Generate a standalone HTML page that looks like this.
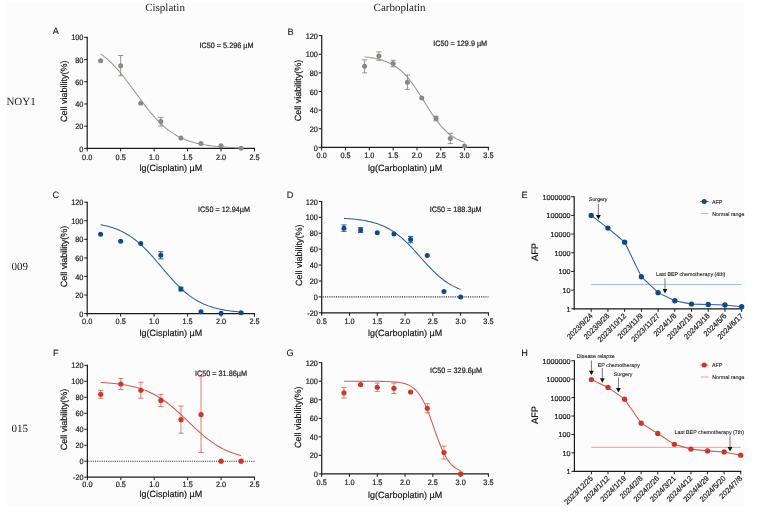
<!DOCTYPE html>
<html><head><meta charset="utf-8"><title>Figure</title>
<style>html,body{margin:0;padding:0;background:#fff;width:777px;height:512px;overflow:hidden}svg{display:block}</style>
</head><body>
<svg width="777" height="512" viewBox="0 0 777 512">
<style>text{text-rendering:geometricPrecision}.s{stroke:#1a1a1a;stroke-width:0.2px}.t{stroke:#1a1a1a;stroke-width:0.1px}</style>
<rect x="0" y="0" width="777" height="512" fill="#ffffff"/>
<rect x="6" y="3" width="739" height="502" fill="#fcfcfc"/>
<line x1="87.2" y1="36.8" x2="87.2" y2="149" stroke="#1a1a1a" stroke-width="1.2"/>
<line x1="86.6" y1="148.4" x2="255" y2="148.4" stroke="#1a1a1a" stroke-width="1.2"/>
<line x1="84.2" y1="148.4" x2="87.2" y2="148.4" stroke="#1a1a1a" stroke-width="1"/>
<text class="s" transform="translate(83.4,151.5) scale(0.93,1)" x="0" y="0" font-size="7.9" text-anchor="end" font-family="'Liberation Sans', Arial, sans-serif" fill="#1a1a1a">0</text>
<line x1="84.2" y1="126.18" x2="87.2" y2="126.18" stroke="#1a1a1a" stroke-width="1"/>
<text class="s" transform="translate(83.4,129.28) scale(0.93,1)" x="0" y="0" font-size="7.9" text-anchor="end" font-family="'Liberation Sans', Arial, sans-serif" fill="#1a1a1a">20</text>
<line x1="84.2" y1="103.96" x2="87.2" y2="103.96" stroke="#1a1a1a" stroke-width="1"/>
<text class="s" transform="translate(83.4,107.06) scale(0.93,1)" x="0" y="0" font-size="7.9" text-anchor="end" font-family="'Liberation Sans', Arial, sans-serif" fill="#1a1a1a">40</text>
<line x1="84.2" y1="81.74" x2="87.2" y2="81.74" stroke="#1a1a1a" stroke-width="1"/>
<text class="s" transform="translate(83.4,84.84) scale(0.93,1)" x="0" y="0" font-size="7.9" text-anchor="end" font-family="'Liberation Sans', Arial, sans-serif" fill="#1a1a1a">60</text>
<line x1="84.2" y1="59.52" x2="87.2" y2="59.52" stroke="#1a1a1a" stroke-width="1"/>
<text class="s" transform="translate(83.4,62.62) scale(0.93,1)" x="0" y="0" font-size="7.9" text-anchor="end" font-family="'Liberation Sans', Arial, sans-serif" fill="#1a1a1a">80</text>
<line x1="84.2" y1="37.3" x2="87.2" y2="37.3" stroke="#1a1a1a" stroke-width="1"/>
<text class="s" transform="translate(83.4,40.4) scale(0.93,1)" x="0" y="0" font-size="7.9" text-anchor="end" font-family="'Liberation Sans', Arial, sans-serif" fill="#1a1a1a">100</text>
<line x1="87.2" y1="148.4" x2="87.2" y2="151.4" stroke="#1a1a1a" stroke-width="1"/>
<text class="s" transform="translate(87.2,159.7) scale(0.93,1)" x="0" y="0" font-size="7.9" text-anchor="middle" font-family="'Liberation Sans', Arial, sans-serif" fill="#1a1a1a">0.0</text>
<line x1="120.66" y1="148.4" x2="120.66" y2="151.4" stroke="#1a1a1a" stroke-width="1"/>
<text class="s" transform="translate(120.66,159.7) scale(0.93,1)" x="0" y="0" font-size="7.9" text-anchor="middle" font-family="'Liberation Sans', Arial, sans-serif" fill="#1a1a1a">0.5</text>
<line x1="154.12" y1="148.4" x2="154.12" y2="151.4" stroke="#1a1a1a" stroke-width="1"/>
<text class="s" transform="translate(154.12,159.7) scale(0.93,1)" x="0" y="0" font-size="7.9" text-anchor="middle" font-family="'Liberation Sans', Arial, sans-serif" fill="#1a1a1a">1.0</text>
<line x1="187.58" y1="148.4" x2="187.58" y2="151.4" stroke="#1a1a1a" stroke-width="1"/>
<text class="s" transform="translate(187.58,159.7) scale(0.93,1)" x="0" y="0" font-size="7.9" text-anchor="middle" font-family="'Liberation Sans', Arial, sans-serif" fill="#1a1a1a">1.5</text>
<line x1="221.04" y1="148.4" x2="221.04" y2="151.4" stroke="#1a1a1a" stroke-width="1"/>
<text class="s" transform="translate(221.04,159.7) scale(0.93,1)" x="0" y="0" font-size="7.9" text-anchor="middle" font-family="'Liberation Sans', Arial, sans-serif" fill="#1a1a1a">2.0</text>
<line x1="254.5" y1="148.4" x2="254.5" y2="151.4" stroke="#1a1a1a" stroke-width="1"/>
<text class="s" transform="translate(254.5,159.7) scale(0.93,1)" x="0" y="0" font-size="7.9" text-anchor="middle" font-family="'Liberation Sans', Arial, sans-serif" fill="#1a1a1a">2.5</text>
<text class="s" x="170.85" y="171.2" font-size="9" text-anchor="middle" font-family="'Liberation Sans', Arial, sans-serif" fill="#1a1a1a">lg(Cisplatin) µM</text>
<text class="s" transform="translate(66.5,91.3) rotate(-90)" x="0" y="0" font-size="9" text-anchor="middle" font-family="'Liberation Sans', Arial, sans-serif" fill="#1a1a1a">Cell viability(%)</text>
<text class="t" x="52.8" y="34.4" font-size="9.2" text-anchor="start" font-family="'Liberation Sans', Arial, sans-serif" fill="#1a1a1a">A</text>
<text class="s" transform="translate(199.5,47.6) scale(0.93,1)" x="0" y="0" font-size="7.8" text-anchor="start" font-family="'Liberation Sans', Arial, sans-serif" fill="#1a1a1a">IC50 = 5.296 µM</text>
<polyline points="100.58,53.92 102.34,55.19 104.1,56.54 105.85,57.96 107.61,59.47 109.37,61.05 111.12,62.72 112.88,64.46 114.64,66.29 116.39,68.19 118.15,70.17 119.91,72.22 121.66,74.34 123.42,76.52 125.18,78.75 126.93,81.04 128.69,83.37 130.45,85.73 132.2,88.12 133.96,90.53 135.72,92.94 137.47,95.36 139.23,97.76 140.99,100.15 142.74,102.51 144.5,104.84 146.26,107.12 148.01,109.35 149.77,111.53 151.53,113.64 153.28,115.68 155.04,117.66 156.8,119.55 158.55,121.37 160.31,123.11 162.07,124.77 163.82,126.35 165.58,127.85 167.34,129.27 169.09,130.61 170.85,131.87 172.61,133.06 174.36,134.17 176.12,135.22 177.88,136.2 179.63,137.11 181.39,137.96 183.15,138.76 184.9,139.5 186.66,140.18 188.42,140.82 190.17,141.41 191.93,141.96 193.69,142.47 195.44,142.94 197.2,143.37 198.96,143.78 200.71,144.15 202.47,144.49 204.23,144.8 205.98,145.1 207.74,145.36 209.5,145.61 211.25,145.84 213.01,146.05 214.77,146.24 216.52,146.42 218.28,146.58 220.04,146.73 221.79,146.87 223.55,146.99 225.31,147.11 227.06,147.21 228.82,147.31 230.58,147.4 232.33,147.48 234.09,147.56 235.85,147.63 237.6,147.69 239.36,147.75 241.12,147.81" fill="none" stroke="#9b9893" stroke-width="1.05"/>
<circle cx="100.58" cy="60.63" r="2.5" fill="#8b8884"/>
<line x1="120.66" y1="55.52" x2="120.66" y2="75.74" stroke="#8b8884" stroke-width="0.9"/>
<line x1="118.06" y1="55.52" x2="123.26" y2="55.52" stroke="#8b8884" stroke-width="0.9"/>
<line x1="118.06" y1="75.74" x2="123.26" y2="75.74" stroke="#8b8884" stroke-width="0.9"/>
<circle cx="120.66" cy="65.63" r="2.5" fill="#8b8884"/>
<circle cx="140.74" cy="103.29" r="2.5" fill="#8b8884"/>
<line x1="160.81" y1="117.29" x2="160.81" y2="125.96" stroke="#8b8884" stroke-width="0.9"/>
<line x1="158.21" y1="117.29" x2="163.41" y2="117.29" stroke="#8b8884" stroke-width="0.9"/>
<line x1="158.21" y1="125.96" x2="163.41" y2="125.96" stroke="#8b8884" stroke-width="0.9"/>
<circle cx="160.81" cy="121.62" r="2.5" fill="#8b8884"/>
<circle cx="180.89" cy="137.96" r="2.5" fill="#8b8884"/>
<circle cx="200.96" cy="143.4" r="2.5" fill="#8b8884"/>
<circle cx="221.04" cy="145.84" r="2.5" fill="#8b8884"/>
<circle cx="241.12" cy="148.18" r="2.5" fill="#8b8884"/>
<line x1="321.7" y1="35.1" x2="321.7" y2="148" stroke="#1a1a1a" stroke-width="1.2"/>
<line x1="321.1" y1="147.4" x2="488.9" y2="147.4" stroke="#1a1a1a" stroke-width="1.2"/>
<line x1="318.7" y1="147.4" x2="321.7" y2="147.4" stroke="#1a1a1a" stroke-width="1"/>
<text class="s" transform="translate(317.9,150.5) scale(0.93,1)" x="0" y="0" font-size="7.9" text-anchor="end" font-family="'Liberation Sans', Arial, sans-serif" fill="#1a1a1a">0</text>
<line x1="318.7" y1="128.77" x2="321.7" y2="128.77" stroke="#1a1a1a" stroke-width="1"/>
<text class="s" transform="translate(317.9,131.87) scale(0.93,1)" x="0" y="0" font-size="7.9" text-anchor="end" font-family="'Liberation Sans', Arial, sans-serif" fill="#1a1a1a">20</text>
<line x1="318.7" y1="110.13" x2="321.7" y2="110.13" stroke="#1a1a1a" stroke-width="1"/>
<text class="s" transform="translate(317.9,113.23) scale(0.93,1)" x="0" y="0" font-size="7.9" text-anchor="end" font-family="'Liberation Sans', Arial, sans-serif" fill="#1a1a1a">40</text>
<line x1="318.7" y1="91.5" x2="321.7" y2="91.5" stroke="#1a1a1a" stroke-width="1"/>
<text class="s" transform="translate(317.9,94.6) scale(0.93,1)" x="0" y="0" font-size="7.9" text-anchor="end" font-family="'Liberation Sans', Arial, sans-serif" fill="#1a1a1a">60</text>
<line x1="318.7" y1="72.87" x2="321.7" y2="72.87" stroke="#1a1a1a" stroke-width="1"/>
<text class="s" transform="translate(317.9,75.97) scale(0.93,1)" x="0" y="0" font-size="7.9" text-anchor="end" font-family="'Liberation Sans', Arial, sans-serif" fill="#1a1a1a">80</text>
<line x1="318.7" y1="54.23" x2="321.7" y2="54.23" stroke="#1a1a1a" stroke-width="1"/>
<text class="s" transform="translate(317.9,57.33) scale(0.93,1)" x="0" y="0" font-size="7.9" text-anchor="end" font-family="'Liberation Sans', Arial, sans-serif" fill="#1a1a1a">100</text>
<line x1="318.7" y1="35.6" x2="321.7" y2="35.6" stroke="#1a1a1a" stroke-width="1"/>
<text class="s" transform="translate(317.9,38.7) scale(0.93,1)" x="0" y="0" font-size="7.9" text-anchor="end" font-family="'Liberation Sans', Arial, sans-serif" fill="#1a1a1a">120</text>
<line x1="321.7" y1="147.4" x2="321.7" y2="150.4" stroke="#1a1a1a" stroke-width="1"/>
<text class="s" transform="translate(321.7,158.2) scale(0.93,1)" x="0" y="0" font-size="7.9" text-anchor="middle" font-family="'Liberation Sans', Arial, sans-serif" fill="#1a1a1a">0.0</text>
<line x1="345.51" y1="147.4" x2="345.51" y2="150.4" stroke="#1a1a1a" stroke-width="1"/>
<text class="s" transform="translate(345.51,158.2) scale(0.93,1)" x="0" y="0" font-size="7.9" text-anchor="middle" font-family="'Liberation Sans', Arial, sans-serif" fill="#1a1a1a">0.5</text>
<line x1="369.33" y1="147.4" x2="369.33" y2="150.4" stroke="#1a1a1a" stroke-width="1"/>
<text class="s" transform="translate(369.33,158.2) scale(0.93,1)" x="0" y="0" font-size="7.9" text-anchor="middle" font-family="'Liberation Sans', Arial, sans-serif" fill="#1a1a1a">1.0</text>
<line x1="393.14" y1="147.4" x2="393.14" y2="150.4" stroke="#1a1a1a" stroke-width="1"/>
<text class="s" transform="translate(393.14,158.2) scale(0.93,1)" x="0" y="0" font-size="7.9" text-anchor="middle" font-family="'Liberation Sans', Arial, sans-serif" fill="#1a1a1a">1.5</text>
<line x1="416.96" y1="147.4" x2="416.96" y2="150.4" stroke="#1a1a1a" stroke-width="1"/>
<text class="s" transform="translate(416.96,158.2) scale(0.93,1)" x="0" y="0" font-size="7.9" text-anchor="middle" font-family="'Liberation Sans', Arial, sans-serif" fill="#1a1a1a">2.0</text>
<line x1="440.77" y1="147.4" x2="440.77" y2="150.4" stroke="#1a1a1a" stroke-width="1"/>
<text class="s" transform="translate(440.77,158.2) scale(0.93,1)" x="0" y="0" font-size="7.9" text-anchor="middle" font-family="'Liberation Sans', Arial, sans-serif" fill="#1a1a1a">2.5</text>
<line x1="464.59" y1="147.4" x2="464.59" y2="150.4" stroke="#1a1a1a" stroke-width="1"/>
<text class="s" transform="translate(464.59,158.2) scale(0.93,1)" x="0" y="0" font-size="7.9" text-anchor="middle" font-family="'Liberation Sans', Arial, sans-serif" fill="#1a1a1a">3.0</text>
<line x1="488.4" y1="147.4" x2="488.4" y2="150.4" stroke="#1a1a1a" stroke-width="1"/>
<text class="s" transform="translate(488.4,158.2) scale(0.93,1)" x="0" y="0" font-size="7.9" text-anchor="middle" font-family="'Liberation Sans', Arial, sans-serif" fill="#1a1a1a">3.5</text>
<text class="s" x="405.05" y="171.4" font-size="9" text-anchor="middle" font-family="'Liberation Sans', Arial, sans-serif" fill="#1a1a1a">lg(Carboplatin) µM</text>
<text class="s" transform="translate(301.1,90.6) rotate(-90)" x="0" y="0" font-size="9" text-anchor="middle" font-family="'Liberation Sans', Arial, sans-serif" fill="#1a1a1a">Cell viability(%)</text>
<text class="t" x="287.4" y="35.3" font-size="9.2" text-anchor="start" font-family="'Liberation Sans', Arial, sans-serif" fill="#1a1a1a">B</text>
<text class="s" transform="translate(433.2,45.9) scale(0.93,1)" x="0" y="0" font-size="7.8" text-anchor="start" font-family="'Liberation Sans', Arial, sans-serif" fill="#1a1a1a">IC50 = 129.9 µM</text>
<polyline points="364.57,56.93 365.82,57.06 367.07,57.19 368.32,57.34 369.57,57.5 370.82,57.68 372.07,57.87 373.32,58.08 374.57,58.3 375.82,58.55 377.07,58.81 378.32,59.1 379.57,59.42 380.82,59.76 382.07,60.12 383.32,60.52 384.57,60.95 385.82,61.41 387.07,61.91 388.32,62.45 389.57,63.04 390.82,63.66 392.07,64.33 393.32,65.06 394.57,65.83 395.82,66.66 397.07,67.54 398.32,68.49 399.57,69.5 400.82,70.56 402.07,71.7 403.32,72.9 404.57,74.17 405.82,75.5 407.07,76.91 408.32,78.38 409.57,79.91 410.82,81.52 412.08,83.18 413.33,84.9 414.58,86.68 415.83,88.51 417.08,90.38 418.33,92.3 419.58,94.25 420.83,96.22 422.08,98.22 423.33,100.22 424.58,102.24 425.83,104.24 427.08,106.24 428.33,108.22 429.58,110.18 430.83,112.1 432.08,113.99 433.33,115.83 434.58,117.62 435.83,119.35 437.08,121.03 438.33,122.65 439.58,124.2 440.83,125.69 442.08,127.11 443.33,128.46 444.58,129.74 445.83,130.96 447.08,132.11 448.33,133.19 449.58,134.21 450.83,135.17 452.08,136.07 453.33,136.92 454.58,137.7 455.83,138.44 457.08,139.12 458.33,139.76 459.58,140.35 460.83,140.9 462.09,141.41 463.34,141.88 464.59,142.32" fill="none" stroke="#9b9893" stroke-width="1.05"/>
<line x1="364.57" y1="59.82" x2="364.57" y2="72.87" stroke="#8b8884" stroke-width="0.9"/>
<line x1="361.97" y1="59.82" x2="367.17" y2="59.82" stroke="#8b8884" stroke-width="0.9"/>
<line x1="361.97" y1="72.87" x2="367.17" y2="72.87" stroke="#8b8884" stroke-width="0.9"/>
<circle cx="364.57" cy="66.34" r="2.5" fill="#8b8884"/>
<line x1="378.85" y1="51.9" x2="378.85" y2="60.29" stroke="#8b8884" stroke-width="0.9"/>
<line x1="376.25" y1="51.9" x2="381.45" y2="51.9" stroke="#8b8884" stroke-width="0.9"/>
<line x1="376.25" y1="60.29" x2="381.45" y2="60.29" stroke="#8b8884" stroke-width="0.9"/>
<circle cx="378.85" cy="56.1" r="2.5" fill="#8b8884"/>
<line x1="393.14" y1="60.29" x2="393.14" y2="66.81" stroke="#8b8884" stroke-width="0.9"/>
<line x1="390.54" y1="60.29" x2="395.74" y2="60.29" stroke="#8b8884" stroke-width="0.9"/>
<line x1="390.54" y1="66.81" x2="395.74" y2="66.81" stroke="#8b8884" stroke-width="0.9"/>
<circle cx="393.14" cy="63.55" r="2.5" fill="#8b8884"/>
<line x1="407.43" y1="75.01" x2="407.43" y2="89.36" stroke="#8b8884" stroke-width="0.9"/>
<line x1="404.83" y1="75.01" x2="410.03" y2="75.01" stroke="#8b8884" stroke-width="0.9"/>
<line x1="404.83" y1="89.36" x2="410.03" y2="89.36" stroke="#8b8884" stroke-width="0.9"/>
<circle cx="407.43" cy="82.18" r="2.5" fill="#8b8884"/>
<circle cx="421.72" cy="98.02" r="2.5" fill="#8b8884"/>
<line x1="436.01" y1="116.19" x2="436.01" y2="120.85" stroke="#8b8884" stroke-width="0.9"/>
<line x1="433.41" y1="116.19" x2="438.61" y2="116.19" stroke="#8b8884" stroke-width="0.9"/>
<line x1="433.41" y1="120.85" x2="438.61" y2="120.85" stroke="#8b8884" stroke-width="0.9"/>
<circle cx="436.01" cy="118.52" r="2.5" fill="#8b8884"/>
<line x1="450.3" y1="133.33" x2="450.3" y2="143.58" stroke="#8b8884" stroke-width="0.9"/>
<line x1="447.7" y1="133.33" x2="452.9" y2="133.33" stroke="#8b8884" stroke-width="0.9"/>
<line x1="447.7" y1="143.58" x2="452.9" y2="143.58" stroke="#8b8884" stroke-width="0.9"/>
<circle cx="450.3" cy="138.46" r="2.5" fill="#8b8884"/>
<circle cx="464.59" cy="146" r="2.5" fill="#8b8884"/>
<line x1="87.2" y1="201.7" x2="87.2" y2="314.2" stroke="#1a1a1a" stroke-width="1.2"/>
<line x1="86.6" y1="313.6" x2="255" y2="313.6" stroke="#1a1a1a" stroke-width="1.2"/>
<line x1="84.2" y1="313.6" x2="87.2" y2="313.6" stroke="#1a1a1a" stroke-width="1"/>
<text class="s" transform="translate(83.4,316.7) scale(0.93,1)" x="0" y="0" font-size="7.9" text-anchor="end" font-family="'Liberation Sans', Arial, sans-serif" fill="#1a1a1a">0</text>
<line x1="84.2" y1="295.03" x2="87.2" y2="295.03" stroke="#1a1a1a" stroke-width="1"/>
<text class="s" transform="translate(83.4,298.13) scale(0.93,1)" x="0" y="0" font-size="7.9" text-anchor="end" font-family="'Liberation Sans', Arial, sans-serif" fill="#1a1a1a">20</text>
<line x1="84.2" y1="276.47" x2="87.2" y2="276.47" stroke="#1a1a1a" stroke-width="1"/>
<text class="s" transform="translate(83.4,279.57) scale(0.93,1)" x="0" y="0" font-size="7.9" text-anchor="end" font-family="'Liberation Sans', Arial, sans-serif" fill="#1a1a1a">40</text>
<line x1="84.2" y1="257.9" x2="87.2" y2="257.9" stroke="#1a1a1a" stroke-width="1"/>
<text class="s" transform="translate(83.4,261) scale(0.93,1)" x="0" y="0" font-size="7.9" text-anchor="end" font-family="'Liberation Sans', Arial, sans-serif" fill="#1a1a1a">60</text>
<line x1="84.2" y1="239.33" x2="87.2" y2="239.33" stroke="#1a1a1a" stroke-width="1"/>
<text class="s" transform="translate(83.4,242.43) scale(0.93,1)" x="0" y="0" font-size="7.9" text-anchor="end" font-family="'Liberation Sans', Arial, sans-serif" fill="#1a1a1a">80</text>
<line x1="84.2" y1="220.77" x2="87.2" y2="220.77" stroke="#1a1a1a" stroke-width="1"/>
<text class="s" transform="translate(83.4,223.87) scale(0.93,1)" x="0" y="0" font-size="7.9" text-anchor="end" font-family="'Liberation Sans', Arial, sans-serif" fill="#1a1a1a">100</text>
<line x1="84.2" y1="202.2" x2="87.2" y2="202.2" stroke="#1a1a1a" stroke-width="1"/>
<text class="s" transform="translate(83.4,205.3) scale(0.93,1)" x="0" y="0" font-size="7.9" text-anchor="end" font-family="'Liberation Sans', Arial, sans-serif" fill="#1a1a1a">120</text>
<line x1="87.2" y1="313.6" x2="87.2" y2="316.6" stroke="#1a1a1a" stroke-width="1"/>
<text class="s" transform="translate(87.2,324.4) scale(0.93,1)" x="0" y="0" font-size="7.9" text-anchor="middle" font-family="'Liberation Sans', Arial, sans-serif" fill="#1a1a1a">0.0</text>
<line x1="120.66" y1="313.6" x2="120.66" y2="316.6" stroke="#1a1a1a" stroke-width="1"/>
<text class="s" transform="translate(120.66,324.4) scale(0.93,1)" x="0" y="0" font-size="7.9" text-anchor="middle" font-family="'Liberation Sans', Arial, sans-serif" fill="#1a1a1a">0.5</text>
<line x1="154.12" y1="313.6" x2="154.12" y2="316.6" stroke="#1a1a1a" stroke-width="1"/>
<text class="s" transform="translate(154.12,324.4) scale(0.93,1)" x="0" y="0" font-size="7.9" text-anchor="middle" font-family="'Liberation Sans', Arial, sans-serif" fill="#1a1a1a">1.0</text>
<line x1="187.58" y1="313.6" x2="187.58" y2="316.6" stroke="#1a1a1a" stroke-width="1"/>
<text class="s" transform="translate(187.58,324.4) scale(0.93,1)" x="0" y="0" font-size="7.9" text-anchor="middle" font-family="'Liberation Sans', Arial, sans-serif" fill="#1a1a1a">1.5</text>
<line x1="221.04" y1="313.6" x2="221.04" y2="316.6" stroke="#1a1a1a" stroke-width="1"/>
<text class="s" transform="translate(221.04,324.4) scale(0.93,1)" x="0" y="0" font-size="7.9" text-anchor="middle" font-family="'Liberation Sans', Arial, sans-serif" fill="#1a1a1a">2.0</text>
<line x1="254.5" y1="313.6" x2="254.5" y2="316.6" stroke="#1a1a1a" stroke-width="1"/>
<text class="s" transform="translate(254.5,324.4) scale(0.93,1)" x="0" y="0" font-size="7.9" text-anchor="middle" font-family="'Liberation Sans', Arial, sans-serif" fill="#1a1a1a">2.5</text>
<text class="s" x="170.85" y="335.9" font-size="9" text-anchor="middle" font-family="'Liberation Sans', Arial, sans-serif" fill="#1a1a1a">lg(Cisplatin) µM</text>
<text class="s" transform="translate(67,256.6) rotate(-90)" x="0" y="0" font-size="9" text-anchor="middle" font-family="'Liberation Sans', Arial, sans-serif" fill="#1a1a1a">Cell viability(%)</text>
<text class="t" x="52.6" y="197.6" font-size="9.2" text-anchor="start" font-family="'Liberation Sans', Arial, sans-serif" fill="#1a1a1a">C</text>
<text class="s" transform="translate(198.1,212.3) scale(0.93,1)" x="0" y="0" font-size="7.8" text-anchor="start" font-family="'Liberation Sans', Arial, sans-serif" fill="#1a1a1a">IC50 = 12.94µM</text>
<polyline points="100.58,224.66 102.34,225.01 104.1,225.39 105.85,225.8 107.61,226.25 109.37,226.73 111.12,227.25 112.88,227.82 114.64,228.43 116.39,229.09 118.15,229.79 119.91,230.55 121.66,231.37 123.42,232.25 125.18,233.18 126.93,234.19 128.69,235.25 130.45,236.39 132.2,237.59 133.96,238.87 135.72,240.22 137.47,241.64 139.23,243.13 140.99,244.7 142.74,246.33 144.5,248.03 146.26,249.8 148.01,251.63 149.77,253.51 151.53,255.44 153.28,257.42 155.04,259.43 156.8,261.48 158.55,263.55 160.31,265.63 162.07,267.72 163.82,269.81 165.58,271.88 167.34,273.94 169.09,275.97 170.85,277.97 172.61,279.93 174.36,281.83 176.12,283.69 177.88,285.48 179.63,287.22 181.39,288.88 183.15,290.48 184.9,292.01 186.66,293.47 188.42,294.85 190.17,296.16 191.93,297.4 193.69,298.57 195.44,299.67 197.2,300.7 198.96,301.67 200.71,302.58 202.47,303.42 204.23,304.21 205.98,304.94 207.74,305.63 209.5,306.26 211.25,306.84 213.01,307.39 214.77,307.89 216.52,308.35 218.28,308.78 220.04,309.18 221.79,309.54 223.55,309.88 225.31,310.19 227.06,310.47 228.82,310.73 230.58,310.97 232.33,311.19 234.09,311.39 235.85,311.58 237.6,311.75 239.36,311.91 241.12,312.05" fill="none" stroke="#2b5f98" stroke-width="1.05"/>
<circle cx="100.58" cy="234.23" r="2.5" fill="#0f4a87"/>
<circle cx="120.66" cy="241.19" r="2.5" fill="#0f4a87"/>
<circle cx="140.74" cy="243.42" r="2.5" fill="#0f4a87"/>
<line x1="160.81" y1="251.77" x2="160.81" y2="258.83" stroke="#0f4a87" stroke-width="0.9"/>
<line x1="158.21" y1="251.77" x2="163.41" y2="251.77" stroke="#0f4a87" stroke-width="0.9"/>
<line x1="158.21" y1="258.83" x2="163.41" y2="258.83" stroke="#0f4a87" stroke-width="0.9"/>
<circle cx="160.81" cy="255.3" r="2.5" fill="#0f4a87"/>
<line x1="180.89" y1="287.24" x2="180.89" y2="290.95" stroke="#0f4a87" stroke-width="0.9"/>
<line x1="178.29" y1="287.24" x2="183.49" y2="287.24" stroke="#0f4a87" stroke-width="0.9"/>
<line x1="178.29" y1="290.95" x2="183.49" y2="290.95" stroke="#0f4a87" stroke-width="0.9"/>
<circle cx="180.89" cy="289.09" r="2.5" fill="#0f4a87"/>
<circle cx="200.96" cy="311.74" r="2.5" fill="#0f4a87"/>
<circle cx="221.04" cy="313.23" r="2.5" fill="#0f4a87"/>
<circle cx="241.12" cy="312.67" r="2.5" fill="#0f4a87"/>
<line x1="322.7" y1="296.89" x2="488.4" y2="296.89" stroke="#333" stroke-width="1.1" stroke-dasharray="1.1,1.1"/>
<line x1="321.7" y1="200.9" x2="321.7" y2="313.4" stroke="#1a1a1a" stroke-width="1.2"/>
<line x1="321.1" y1="312.8" x2="488.9" y2="312.8" stroke="#1a1a1a" stroke-width="1.2"/>
<line x1="318.7" y1="312.8" x2="321.7" y2="312.8" stroke="#1a1a1a" stroke-width="1"/>
<text class="s" transform="translate(317.9,315.9) scale(0.93,1)" x="0" y="0" font-size="7.9" text-anchor="end" font-family="'Liberation Sans', Arial, sans-serif" fill="#1a1a1a">-20</text>
<line x1="318.7" y1="296.89" x2="321.7" y2="296.89" stroke="#1a1a1a" stroke-width="1"/>
<text class="s" transform="translate(317.9,299.99) scale(0.93,1)" x="0" y="0" font-size="7.9" text-anchor="end" font-family="'Liberation Sans', Arial, sans-serif" fill="#1a1a1a">0</text>
<line x1="318.7" y1="280.97" x2="321.7" y2="280.97" stroke="#1a1a1a" stroke-width="1"/>
<text class="s" transform="translate(317.9,284.07) scale(0.93,1)" x="0" y="0" font-size="7.9" text-anchor="end" font-family="'Liberation Sans', Arial, sans-serif" fill="#1a1a1a">20</text>
<line x1="318.7" y1="265.06" x2="321.7" y2="265.06" stroke="#1a1a1a" stroke-width="1"/>
<text class="s" transform="translate(317.9,268.16) scale(0.93,1)" x="0" y="0" font-size="7.9" text-anchor="end" font-family="'Liberation Sans', Arial, sans-serif" fill="#1a1a1a">40</text>
<line x1="318.7" y1="249.14" x2="321.7" y2="249.14" stroke="#1a1a1a" stroke-width="1"/>
<text class="s" transform="translate(317.9,252.24) scale(0.93,1)" x="0" y="0" font-size="7.9" text-anchor="end" font-family="'Liberation Sans', Arial, sans-serif" fill="#1a1a1a">60</text>
<line x1="318.7" y1="233.23" x2="321.7" y2="233.23" stroke="#1a1a1a" stroke-width="1"/>
<text class="s" transform="translate(317.9,236.33) scale(0.93,1)" x="0" y="0" font-size="7.9" text-anchor="end" font-family="'Liberation Sans', Arial, sans-serif" fill="#1a1a1a">80</text>
<line x1="318.7" y1="217.31" x2="321.7" y2="217.31" stroke="#1a1a1a" stroke-width="1"/>
<text class="s" transform="translate(317.9,220.41) scale(0.93,1)" x="0" y="0" font-size="7.9" text-anchor="end" font-family="'Liberation Sans', Arial, sans-serif" fill="#1a1a1a">100</text>
<line x1="318.7" y1="201.4" x2="321.7" y2="201.4" stroke="#1a1a1a" stroke-width="1"/>
<text class="s" transform="translate(317.9,204.5) scale(0.93,1)" x="0" y="0" font-size="7.9" text-anchor="end" font-family="'Liberation Sans', Arial, sans-serif" fill="#1a1a1a">120</text>
<line x1="321.7" y1="312.8" x2="321.7" y2="315.8" stroke="#1a1a1a" stroke-width="1"/>
<text class="s" transform="translate(321.7,323.8) scale(0.93,1)" x="0" y="0" font-size="7.9" text-anchor="middle" font-family="'Liberation Sans', Arial, sans-serif" fill="#1a1a1a">0.5</text>
<line x1="349.48" y1="312.8" x2="349.48" y2="315.8" stroke="#1a1a1a" stroke-width="1"/>
<text class="s" transform="translate(349.48,323.8) scale(0.93,1)" x="0" y="0" font-size="7.9" text-anchor="middle" font-family="'Liberation Sans', Arial, sans-serif" fill="#1a1a1a">1.0</text>
<line x1="377.27" y1="312.8" x2="377.27" y2="315.8" stroke="#1a1a1a" stroke-width="1"/>
<text class="s" transform="translate(377.27,323.8) scale(0.93,1)" x="0" y="0" font-size="7.9" text-anchor="middle" font-family="'Liberation Sans', Arial, sans-serif" fill="#1a1a1a">1.5</text>
<line x1="405.05" y1="312.8" x2="405.05" y2="315.8" stroke="#1a1a1a" stroke-width="1"/>
<text class="s" transform="translate(405.05,323.8) scale(0.93,1)" x="0" y="0" font-size="7.9" text-anchor="middle" font-family="'Liberation Sans', Arial, sans-serif" fill="#1a1a1a">2.0</text>
<line x1="432.83" y1="312.8" x2="432.83" y2="315.8" stroke="#1a1a1a" stroke-width="1"/>
<text class="s" transform="translate(432.83,323.8) scale(0.93,1)" x="0" y="0" font-size="7.9" text-anchor="middle" font-family="'Liberation Sans', Arial, sans-serif" fill="#1a1a1a">2.5</text>
<line x1="460.62" y1="312.8" x2="460.62" y2="315.8" stroke="#1a1a1a" stroke-width="1"/>
<text class="s" transform="translate(460.62,323.8) scale(0.93,1)" x="0" y="0" font-size="7.9" text-anchor="middle" font-family="'Liberation Sans', Arial, sans-serif" fill="#1a1a1a">3.0</text>
<line x1="488.4" y1="312.8" x2="488.4" y2="315.8" stroke="#1a1a1a" stroke-width="1"/>
<text class="s" transform="translate(488.4,323.8) scale(0.93,1)" x="0" y="0" font-size="7.9" text-anchor="middle" font-family="'Liberation Sans', Arial, sans-serif" fill="#1a1a1a">3.5</text>
<text class="s" x="405.05" y="335.6" font-size="9" text-anchor="middle" font-family="'Liberation Sans', Arial, sans-serif" fill="#1a1a1a">lg(Carboplatin) µM</text>
<text class="s" transform="translate(301.5,255.3) rotate(-90)" x="0" y="0" font-size="9" text-anchor="middle" font-family="'Liberation Sans', Arial, sans-serif" fill="#1a1a1a">Cell viability(%)</text>
<text class="t" x="286.8" y="197.6" font-size="9.2" text-anchor="start" font-family="'Liberation Sans', Arial, sans-serif" fill="#1a1a1a">D</text>
<text class="s" transform="translate(429.7,211.7) scale(0.93,1)" x="0" y="0" font-size="7.8" text-anchor="start" font-family="'Liberation Sans', Arial, sans-serif" fill="#1a1a1a">IC50 = 188.3µM</text>
<polyline points="343.93,218.37 345.39,218.46 346.84,218.56 348.3,218.66 349.76,218.78 351.22,218.9 352.68,219.03 354.14,219.18 355.6,219.33 357.05,219.5 358.51,219.68 359.97,219.88 361.43,220.09 362.89,220.32 364.35,220.57 365.81,220.83 367.26,221.12 368.72,221.43 370.18,221.76 371.64,222.12 373.1,222.51 374.56,222.92 376.02,223.37 377.48,223.84 378.93,224.35 380.39,224.9 381.85,225.48 383.31,226.1 384.77,226.76 386.23,227.47 387.69,228.22 389.14,229.02 390.6,229.86 392.06,230.76 393.52,231.7 394.98,232.69 396.44,233.74 397.9,234.84 399.35,235.99 400.81,237.19 402.27,238.44 403.73,239.74 405.19,241.08 406.65,242.48 408.11,243.91 409.56,245.39 411.02,246.9 412.48,248.44 413.94,250.01 415.4,251.61 416.86,253.22 418.32,254.84 419.78,256.48 421.23,258.11 422.69,259.74 424.15,261.37 425.61,262.97 427.07,264.56 428.53,266.13 429.99,267.66 431.44,269.17 432.9,270.63 434.36,272.06 435.82,273.44 437.28,274.78 438.74,276.06 440.2,277.3 441.65,278.49 443.11,279.63 444.57,280.71 446.03,281.75 447.49,282.73 448.95,283.66 450.41,284.54 451.86,285.38 453.32,286.16 454.78,286.9 456.24,287.6 457.7,288.25 459.16,288.86 460.62,289.44" fill="none" stroke="#2b5f98" stroke-width="1.05"/>
<line x1="343.93" y1="224.95" x2="343.93" y2="231.32" stroke="#0f4a87" stroke-width="0.9"/>
<line x1="341.33" y1="224.95" x2="346.53" y2="224.95" stroke="#0f4a87" stroke-width="0.9"/>
<line x1="341.33" y1="231.32" x2="346.53" y2="231.32" stroke="#0f4a87" stroke-width="0.9"/>
<circle cx="343.93" cy="228.14" r="2.5" fill="#0f4a87"/>
<line x1="360.6" y1="227.66" x2="360.6" y2="232.43" stroke="#0f4a87" stroke-width="0.9"/>
<line x1="358" y1="227.66" x2="363.2" y2="227.66" stroke="#0f4a87" stroke-width="0.9"/>
<line x1="358" y1="232.43" x2="363.2" y2="232.43" stroke="#0f4a87" stroke-width="0.9"/>
<circle cx="360.6" cy="230.05" r="2.5" fill="#0f4a87"/>
<circle cx="377.27" cy="232.83" r="2.5" fill="#0f4a87"/>
<circle cx="393.94" cy="234.02" r="2.5" fill="#0f4a87"/>
<line x1="410.61" y1="236.41" x2="410.61" y2="242.78" stroke="#0f4a87" stroke-width="0.9"/>
<line x1="408.01" y1="236.41" x2="413.21" y2="236.41" stroke="#0f4a87" stroke-width="0.9"/>
<line x1="408.01" y1="242.78" x2="413.21" y2="242.78" stroke="#0f4a87" stroke-width="0.9"/>
<circle cx="410.61" cy="239.59" r="2.5" fill="#0f4a87"/>
<circle cx="427.28" cy="255.51" r="2.5" fill="#0f4a87"/>
<circle cx="443.95" cy="291.55" r="2.5" fill="#0f4a87"/>
<circle cx="460.62" cy="296.89" r="2.5" fill="#0f4a87"/>
<line x1="88.4" y1="461.21" x2="254.5" y2="461.21" stroke="#333" stroke-width="1.1" stroke-dasharray="1.1,1.1"/>
<line x1="87.4" y1="364.8" x2="87.4" y2="477.8" stroke="#1a1a1a" stroke-width="1.2"/>
<line x1="86.8" y1="477.2" x2="255" y2="477.2" stroke="#1a1a1a" stroke-width="1.2"/>
<line x1="84.4" y1="477.2" x2="87.4" y2="477.2" stroke="#1a1a1a" stroke-width="1"/>
<text class="s" transform="translate(83.6,480.3) scale(0.93,1)" x="0" y="0" font-size="7.9" text-anchor="end" font-family="'Liberation Sans', Arial, sans-serif" fill="#1a1a1a">-20</text>
<line x1="84.4" y1="461.21" x2="87.4" y2="461.21" stroke="#1a1a1a" stroke-width="1"/>
<text class="s" transform="translate(83.6,464.31) scale(0.93,1)" x="0" y="0" font-size="7.9" text-anchor="end" font-family="'Liberation Sans', Arial, sans-serif" fill="#1a1a1a">0</text>
<line x1="84.4" y1="445.23" x2="87.4" y2="445.23" stroke="#1a1a1a" stroke-width="1"/>
<text class="s" transform="translate(83.6,448.33) scale(0.93,1)" x="0" y="0" font-size="7.9" text-anchor="end" font-family="'Liberation Sans', Arial, sans-serif" fill="#1a1a1a">20</text>
<line x1="84.4" y1="429.24" x2="87.4" y2="429.24" stroke="#1a1a1a" stroke-width="1"/>
<text class="s" transform="translate(83.6,432.34) scale(0.93,1)" x="0" y="0" font-size="7.9" text-anchor="end" font-family="'Liberation Sans', Arial, sans-serif" fill="#1a1a1a">40</text>
<line x1="84.4" y1="413.26" x2="87.4" y2="413.26" stroke="#1a1a1a" stroke-width="1"/>
<text class="s" transform="translate(83.6,416.36) scale(0.93,1)" x="0" y="0" font-size="7.9" text-anchor="end" font-family="'Liberation Sans', Arial, sans-serif" fill="#1a1a1a">60</text>
<line x1="84.4" y1="397.27" x2="87.4" y2="397.27" stroke="#1a1a1a" stroke-width="1"/>
<text class="s" transform="translate(83.6,400.37) scale(0.93,1)" x="0" y="0" font-size="7.9" text-anchor="end" font-family="'Liberation Sans', Arial, sans-serif" fill="#1a1a1a">80</text>
<line x1="84.4" y1="381.29" x2="87.4" y2="381.29" stroke="#1a1a1a" stroke-width="1"/>
<text class="s" transform="translate(83.6,384.39) scale(0.93,1)" x="0" y="0" font-size="7.9" text-anchor="end" font-family="'Liberation Sans', Arial, sans-serif" fill="#1a1a1a">100</text>
<line x1="84.4" y1="365.3" x2="87.4" y2="365.3" stroke="#1a1a1a" stroke-width="1"/>
<text class="s" transform="translate(83.6,368.4) scale(0.93,1)" x="0" y="0" font-size="7.9" text-anchor="end" font-family="'Liberation Sans', Arial, sans-serif" fill="#1a1a1a">120</text>
<line x1="87.4" y1="477.2" x2="87.4" y2="480.2" stroke="#1a1a1a" stroke-width="1"/>
<text class="s" transform="translate(87.4,487.4) scale(0.93,1)" x="0" y="0" font-size="7.9" text-anchor="middle" font-family="'Liberation Sans', Arial, sans-serif" fill="#1a1a1a">0.0</text>
<line x1="120.82" y1="477.2" x2="120.82" y2="480.2" stroke="#1a1a1a" stroke-width="1"/>
<text class="s" transform="translate(120.82,487.4) scale(0.93,1)" x="0" y="0" font-size="7.9" text-anchor="middle" font-family="'Liberation Sans', Arial, sans-serif" fill="#1a1a1a">0.5</text>
<line x1="154.24" y1="477.2" x2="154.24" y2="480.2" stroke="#1a1a1a" stroke-width="1"/>
<text class="s" transform="translate(154.24,487.4) scale(0.93,1)" x="0" y="0" font-size="7.9" text-anchor="middle" font-family="'Liberation Sans', Arial, sans-serif" fill="#1a1a1a">1.0</text>
<line x1="187.66" y1="477.2" x2="187.66" y2="480.2" stroke="#1a1a1a" stroke-width="1"/>
<text class="s" transform="translate(187.66,487.4) scale(0.93,1)" x="0" y="0" font-size="7.9" text-anchor="middle" font-family="'Liberation Sans', Arial, sans-serif" fill="#1a1a1a">1.5</text>
<line x1="221.08" y1="477.2" x2="221.08" y2="480.2" stroke="#1a1a1a" stroke-width="1"/>
<text class="s" transform="translate(221.08,487.4) scale(0.93,1)" x="0" y="0" font-size="7.9" text-anchor="middle" font-family="'Liberation Sans', Arial, sans-serif" fill="#1a1a1a">2.0</text>
<line x1="254.5" y1="477.2" x2="254.5" y2="480.2" stroke="#1a1a1a" stroke-width="1"/>
<text class="s" transform="translate(254.5,487.4) scale(0.93,1)" x="0" y="0" font-size="7.9" text-anchor="middle" font-family="'Liberation Sans', Arial, sans-serif" fill="#1a1a1a">2.5</text>
<text class="s" x="170.95" y="496.5" font-size="9" text-anchor="middle" font-family="'Liberation Sans', Arial, sans-serif" fill="#1a1a1a">lg(Cisplatin) µM</text>
<text class="s" transform="translate(67.4,419.4) rotate(-90)" x="0" y="0" font-size="9" text-anchor="middle" font-family="'Liberation Sans', Arial, sans-serif" fill="#1a1a1a">Cell viability(%)</text>
<text class="t" x="53" y="355.6" font-size="9.2" text-anchor="start" font-family="'Liberation Sans', Arial, sans-serif" fill="#1a1a1a">F</text>
<text class="s" transform="translate(195,376) scale(0.93,1)" x="0" y="0" font-size="7.8" text-anchor="start" font-family="'Liberation Sans', Arial, sans-serif" fill="#1a1a1a">IC50 = 31.86µM</text>
<polyline points="100.77,382.47 102.52,382.57 104.28,382.68 106.03,382.8 107.79,382.93 109.54,383.07 111.3,383.23 113.05,383.4 114.8,383.58 116.56,383.77 118.31,383.98 120.07,384.21 121.82,384.46 123.58,384.73 125.33,385.02 127.09,385.33 128.84,385.67 130.6,386.04 132.35,386.43 134.1,386.85 135.86,387.3 137.61,387.79 139.37,388.32 141.12,388.88 142.88,389.48 144.63,390.12 146.39,390.81 148.14,391.54 149.9,392.33 151.65,393.16 153.4,394.04 155.16,394.97 156.91,395.96 158.67,397 160.42,398.09 162.18,399.24 163.93,400.45 165.69,401.71 167.44,403.02 169.2,404.39 170.95,405.8 172.7,407.26 174.46,408.77 176.21,410.31 177.97,411.89 179.72,413.51 181.48,415.15 183.23,416.81 184.99,418.48 186.74,420.17 188.5,421.86 190.25,423.55 192,425.23 193.76,426.9 195.51,428.54 197.27,430.16 199.02,431.75 200.78,433.31 202.53,434.83 204.29,436.3 206.04,437.73 207.8,439.11 209.55,440.43 211.3,441.71 213.06,442.93 214.81,444.1 216.57,445.21 218.32,446.26 220.08,447.26 221.83,448.21 223.59,449.11 225.34,449.95 227.1,450.74 228.85,451.49 230.6,452.19 232.36,452.85 234.11,453.46 235.87,454.03 237.62,454.57 239.38,455.06 241.13,455.53" fill="none" stroke="#d4584b" stroke-width="1.05"/>
<line x1="100.77" y1="390.32" x2="100.77" y2="398.31" stroke="#d6685c" stroke-width="0.85"/>
<line x1="98.17" y1="390.32" x2="103.37" y2="390.32" stroke="#d6685c" stroke-width="0.85"/>
<line x1="98.17" y1="398.31" x2="103.37" y2="398.31" stroke="#d6685c" stroke-width="0.85"/>
<circle cx="100.77" cy="394.31" r="2.6" fill="#c8382d"/>
<line x1="120.82" y1="378.41" x2="120.82" y2="389.6" stroke="#d6685c" stroke-width="0.85"/>
<line x1="118.22" y1="378.41" x2="123.42" y2="378.41" stroke="#d6685c" stroke-width="0.85"/>
<line x1="118.22" y1="389.6" x2="123.42" y2="389.6" stroke="#d6685c" stroke-width="0.85"/>
<circle cx="120.82" cy="384" r="2.6" fill="#c8382d"/>
<line x1="140.87" y1="382.24" x2="140.87" y2="398.23" stroke="#d6685c" stroke-width="0.85"/>
<line x1="138.27" y1="382.24" x2="143.47" y2="382.24" stroke="#d6685c" stroke-width="0.85"/>
<line x1="138.27" y1="398.23" x2="143.47" y2="398.23" stroke="#d6685c" stroke-width="0.85"/>
<circle cx="140.87" cy="390.24" r="2.6" fill="#c8382d"/>
<line x1="160.92" y1="394.31" x2="160.92" y2="406.62" stroke="#d6685c" stroke-width="0.85"/>
<line x1="158.32" y1="394.31" x2="163.52" y2="394.31" stroke="#d6685c" stroke-width="0.85"/>
<line x1="158.32" y1="406.62" x2="163.52" y2="406.62" stroke="#d6685c" stroke-width="0.85"/>
<circle cx="160.92" cy="400.47" r="2.6" fill="#c8382d"/>
<line x1="180.98" y1="406.06" x2="180.98" y2="433.24" stroke="#d6685c" stroke-width="0.85"/>
<line x1="178.38" y1="406.06" x2="183.58" y2="406.06" stroke="#d6685c" stroke-width="0.85"/>
<line x1="178.38" y1="433.24" x2="183.58" y2="433.24" stroke="#d6685c" stroke-width="0.85"/>
<circle cx="180.98" cy="419.65" r="2.6" fill="#c8382d"/>
<line x1="201.03" y1="376.57" x2="201.03" y2="452.5" stroke="#d6685c" stroke-width="0.85"/>
<line x1="198.43" y1="376.57" x2="203.63" y2="376.57" stroke="#d6685c" stroke-width="0.85"/>
<line x1="198.43" y1="452.5" x2="203.63" y2="452.5" stroke="#d6685c" stroke-width="0.85"/>
<circle cx="201.03" cy="414.54" r="2.6" fill="#c8382d"/>
<circle cx="221.08" cy="461.21" r="2.6" fill="#c8382d"/>
<circle cx="241.13" cy="461.21" r="2.6" fill="#c8382d"/>
<line x1="321.7" y1="362.2" x2="321.7" y2="474.5" stroke="#1a1a1a" stroke-width="1.2"/>
<line x1="321.1" y1="473.9" x2="488.9" y2="473.9" stroke="#1a1a1a" stroke-width="1.2"/>
<line x1="318.7" y1="473.9" x2="321.7" y2="473.9" stroke="#1a1a1a" stroke-width="1"/>
<text class="s" transform="translate(317.9,477) scale(0.93,1)" x="0" y="0" font-size="7.9" text-anchor="end" font-family="'Liberation Sans', Arial, sans-serif" fill="#1a1a1a">0</text>
<line x1="318.7" y1="455.37" x2="321.7" y2="455.37" stroke="#1a1a1a" stroke-width="1"/>
<text class="s" transform="translate(317.9,458.47) scale(0.93,1)" x="0" y="0" font-size="7.9" text-anchor="end" font-family="'Liberation Sans', Arial, sans-serif" fill="#1a1a1a">20</text>
<line x1="318.7" y1="436.83" x2="321.7" y2="436.83" stroke="#1a1a1a" stroke-width="1"/>
<text class="s" transform="translate(317.9,439.93) scale(0.93,1)" x="0" y="0" font-size="7.9" text-anchor="end" font-family="'Liberation Sans', Arial, sans-serif" fill="#1a1a1a">40</text>
<line x1="318.7" y1="418.3" x2="321.7" y2="418.3" stroke="#1a1a1a" stroke-width="1"/>
<text class="s" transform="translate(317.9,421.4) scale(0.93,1)" x="0" y="0" font-size="7.9" text-anchor="end" font-family="'Liberation Sans', Arial, sans-serif" fill="#1a1a1a">60</text>
<line x1="318.7" y1="399.77" x2="321.7" y2="399.77" stroke="#1a1a1a" stroke-width="1"/>
<text class="s" transform="translate(317.9,402.87) scale(0.93,1)" x="0" y="0" font-size="7.9" text-anchor="end" font-family="'Liberation Sans', Arial, sans-serif" fill="#1a1a1a">80</text>
<line x1="318.7" y1="381.23" x2="321.7" y2="381.23" stroke="#1a1a1a" stroke-width="1"/>
<text class="s" transform="translate(317.9,384.33) scale(0.93,1)" x="0" y="0" font-size="7.9" text-anchor="end" font-family="'Liberation Sans', Arial, sans-serif" fill="#1a1a1a">100</text>
<line x1="318.7" y1="362.7" x2="321.7" y2="362.7" stroke="#1a1a1a" stroke-width="1"/>
<text class="s" transform="translate(317.9,365.8) scale(0.93,1)" x="0" y="0" font-size="7.9" text-anchor="end" font-family="'Liberation Sans', Arial, sans-serif" fill="#1a1a1a">120</text>
<line x1="321.7" y1="473.9" x2="321.7" y2="476.9" stroke="#1a1a1a" stroke-width="1"/>
<text class="s" transform="translate(321.7,485.1) scale(0.93,1)" x="0" y="0" font-size="7.9" text-anchor="middle" font-family="'Liberation Sans', Arial, sans-serif" fill="#1a1a1a">0.5</text>
<line x1="349.48" y1="473.9" x2="349.48" y2="476.9" stroke="#1a1a1a" stroke-width="1"/>
<text class="s" transform="translate(349.48,485.1) scale(0.93,1)" x="0" y="0" font-size="7.9" text-anchor="middle" font-family="'Liberation Sans', Arial, sans-serif" fill="#1a1a1a">1.0</text>
<line x1="377.27" y1="473.9" x2="377.27" y2="476.9" stroke="#1a1a1a" stroke-width="1"/>
<text class="s" transform="translate(377.27,485.1) scale(0.93,1)" x="0" y="0" font-size="7.9" text-anchor="middle" font-family="'Liberation Sans', Arial, sans-serif" fill="#1a1a1a">1.5</text>
<line x1="405.05" y1="473.9" x2="405.05" y2="476.9" stroke="#1a1a1a" stroke-width="1"/>
<text class="s" transform="translate(405.05,485.1) scale(0.93,1)" x="0" y="0" font-size="7.9" text-anchor="middle" font-family="'Liberation Sans', Arial, sans-serif" fill="#1a1a1a">2.0</text>
<line x1="432.83" y1="473.9" x2="432.83" y2="476.9" stroke="#1a1a1a" stroke-width="1"/>
<text class="s" transform="translate(432.83,485.1) scale(0.93,1)" x="0" y="0" font-size="7.9" text-anchor="middle" font-family="'Liberation Sans', Arial, sans-serif" fill="#1a1a1a">2.5</text>
<line x1="460.62" y1="473.9" x2="460.62" y2="476.9" stroke="#1a1a1a" stroke-width="1"/>
<text class="s" transform="translate(460.62,485.1) scale(0.93,1)" x="0" y="0" font-size="7.9" text-anchor="middle" font-family="'Liberation Sans', Arial, sans-serif" fill="#1a1a1a">3.0</text>
<line x1="488.4" y1="473.9" x2="488.4" y2="476.9" stroke="#1a1a1a" stroke-width="1"/>
<text class="s" transform="translate(488.4,485.1) scale(0.93,1)" x="0" y="0" font-size="7.9" text-anchor="middle" font-family="'Liberation Sans', Arial, sans-serif" fill="#1a1a1a">3.5</text>
<text class="s" x="405.05" y="498" font-size="9" text-anchor="middle" font-family="'Liberation Sans', Arial, sans-serif" fill="#1a1a1a">lg(Carboplatin) µM</text>
<text class="s" transform="translate(301.4,417.3) rotate(-90)" x="0" y="0" font-size="9" text-anchor="middle" font-family="'Liberation Sans', Arial, sans-serif" fill="#1a1a1a">Cell viability(%)</text>
<text class="t" x="286.4" y="355.6" font-size="9.2" text-anchor="start" font-family="'Liberation Sans', Arial, sans-serif" fill="#1a1a1a">G</text>
<text class="s" transform="translate(430,372.7) scale(0.93,1)" x="0" y="0" font-size="7.8" text-anchor="start" font-family="'Liberation Sans', Arial, sans-serif" fill="#1a1a1a">IC50 = 329.6µM</text>
<polyline points="343.93,381.23 345.39,381.23 346.84,381.24 348.3,381.24 349.76,381.24 351.22,381.24 352.68,381.24 354.14,381.24 355.6,381.24 357.05,381.24 358.51,381.24 359.97,381.24 361.43,381.24 362.89,381.25 364.35,381.25 365.81,381.25 367.26,381.26 368.72,381.26 370.18,381.27 371.64,381.27 373.1,381.28 374.56,381.29 376.02,381.3 377.48,381.32 378.93,381.33 380.39,381.35 381.85,381.38 383.31,381.41 384.77,381.44 386.23,381.48 387.69,381.53 389.14,381.59 390.6,381.66 392.06,381.75 393.52,381.85 394.98,381.97 396.44,382.11 397.9,382.28 399.35,382.49 400.81,382.74 402.27,383.03 403.73,383.38 405.19,383.79 406.65,384.29 408.11,384.87 409.56,385.56 411.02,386.37 412.48,387.32 413.94,388.44 415.4,389.74 416.86,391.25 418.32,392.99 419.78,394.98 421.23,397.24 422.69,399.79 424.15,402.62 425.61,405.75 427.07,409.16 428.53,412.81 429.99,416.69 431.44,420.74 432.9,424.89 434.36,429.09 435.82,433.26 437.28,437.34 438.74,441.27 440.2,444.99 441.65,448.47 443.11,451.68 444.57,454.59 446.03,457.22 447.49,459.56 448.95,461.62 450.41,463.43 451.86,465 453.32,466.35 454.78,467.52 456.24,468.52 457.7,469.36 459.16,470.09 460.62,470.7" fill="none" stroke="#d4584b" stroke-width="1.05"/>
<line x1="343.93" y1="387.63" x2="343.93" y2="398.01" stroke="#d6685c" stroke-width="0.85"/>
<line x1="341.33" y1="387.63" x2="346.53" y2="387.63" stroke="#d6685c" stroke-width="0.85"/>
<line x1="341.33" y1="398.01" x2="346.53" y2="398.01" stroke="#d6685c" stroke-width="0.85"/>
<circle cx="343.93" cy="392.82" r="2.6" fill="#c8382d"/>
<circle cx="360.6" cy="384.57" r="2.6" fill="#c8382d"/>
<line x1="377.27" y1="383.09" x2="377.27" y2="391.43" stroke="#d6685c" stroke-width="0.85"/>
<line x1="374.67" y1="383.09" x2="379.87" y2="383.09" stroke="#d6685c" stroke-width="0.85"/>
<line x1="374.67" y1="391.43" x2="379.87" y2="391.43" stroke="#d6685c" stroke-width="0.85"/>
<circle cx="377.27" cy="387.26" r="2.6" fill="#c8382d"/>
<line x1="393.94" y1="383.09" x2="393.94" y2="393.47" stroke="#d6685c" stroke-width="0.85"/>
<line x1="391.34" y1="383.09" x2="396.54" y2="383.09" stroke="#d6685c" stroke-width="0.85"/>
<line x1="391.34" y1="393.47" x2="396.54" y2="393.47" stroke="#d6685c" stroke-width="0.85"/>
<circle cx="393.94" cy="388.28" r="2.6" fill="#c8382d"/>
<circle cx="410.61" cy="391.98" r="2.6" fill="#c8382d"/>
<line x1="427.28" y1="403.66" x2="427.28" y2="412.93" stroke="#d6685c" stroke-width="0.85"/>
<line x1="424.68" y1="403.66" x2="429.88" y2="403.66" stroke="#d6685c" stroke-width="0.85"/>
<line x1="424.68" y1="412.93" x2="429.88" y2="412.93" stroke="#d6685c" stroke-width="0.85"/>
<circle cx="427.28" cy="408.29" r="2.6" fill="#c8382d"/>
<line x1="443.95" y1="446.1" x2="443.95" y2="459.07" stroke="#d6685c" stroke-width="0.85"/>
<line x1="441.35" y1="446.1" x2="446.55" y2="446.1" stroke="#d6685c" stroke-width="0.85"/>
<line x1="441.35" y1="459.07" x2="446.55" y2="459.07" stroke="#d6685c" stroke-width="0.85"/>
<circle cx="443.95" cy="452.59" r="2.6" fill="#c8382d"/>
<circle cx="460.62" cy="473.9" r="2.6" fill="#c8382d"/>
<line x1="591.2" y1="284.5" x2="741.68" y2="284.5" stroke="#a9c1e6" stroke-width="1"/>
<line x1="574.2" y1="196.22" x2="574.2" y2="309.4" stroke="#1a1a1a" stroke-width="1.2"/>
<line x1="573.6" y1="308.8" x2="742.18" y2="308.8" stroke="#1a1a1a" stroke-width="1.2"/>
<line x1="571.2" y1="308.8" x2="574.2" y2="308.8" stroke="#1a1a1a" stroke-width="1"/>
<text class="s" x="570.4" y="311.8" font-size="7.2" text-anchor="end" font-family="'Liberation Sans', Arial, sans-serif" fill="#1a1a1a">1</text>
<line x1="571.2" y1="290.12" x2="574.2" y2="290.12" stroke="#1a1a1a" stroke-width="1"/>
<text class="s" x="570.4" y="293.12" font-size="7.2" text-anchor="end" font-family="'Liberation Sans', Arial, sans-serif" fill="#1a1a1a">10</text>
<line x1="571.2" y1="271.44" x2="574.2" y2="271.44" stroke="#1a1a1a" stroke-width="1"/>
<text class="s" x="570.4" y="274.44" font-size="7.2" text-anchor="end" font-family="'Liberation Sans', Arial, sans-serif" fill="#1a1a1a">100</text>
<line x1="571.2" y1="252.76" x2="574.2" y2="252.76" stroke="#1a1a1a" stroke-width="1"/>
<text class="s" x="570.4" y="255.76" font-size="7.2" text-anchor="end" font-family="'Liberation Sans', Arial, sans-serif" fill="#1a1a1a">1000</text>
<line x1="571.2" y1="234.08" x2="574.2" y2="234.08" stroke="#1a1a1a" stroke-width="1"/>
<text class="s" x="570.4" y="237.08" font-size="7.2" text-anchor="end" font-family="'Liberation Sans', Arial, sans-serif" fill="#1a1a1a">10000</text>
<line x1="571.2" y1="215.4" x2="574.2" y2="215.4" stroke="#1a1a1a" stroke-width="1"/>
<text class="s" x="570.4" y="218.4" font-size="7.2" text-anchor="end" font-family="'Liberation Sans', Arial, sans-serif" fill="#1a1a1a">100000</text>
<line x1="571.2" y1="196.72" x2="574.2" y2="196.72" stroke="#1a1a1a" stroke-width="1"/>
<text class="s" x="570.4" y="199.72" font-size="7.2" text-anchor="end" font-family="'Liberation Sans', Arial, sans-serif" fill="#1a1a1a">1000000</text>
<line x1="591.2" y1="308.8" x2="591.2" y2="311.8" stroke="#1a1a1a" stroke-width="1"/>
<text class="s" transform="translate(593.2,316.4) rotate(-45)" x="0" y="0" font-size="7.4" text-anchor="end" font-family="'Liberation Sans', Arial, sans-serif" fill="#1a1a1a">2023/9/24</text>
<line x1="607.92" y1="308.8" x2="607.92" y2="311.8" stroke="#1a1a1a" stroke-width="1"/>
<text class="s" transform="translate(609.92,316.4) rotate(-45)" x="0" y="0" font-size="7.4" text-anchor="end" font-family="'Liberation Sans', Arial, sans-serif" fill="#1a1a1a">2023/9/28</text>
<line x1="624.64" y1="308.8" x2="624.64" y2="311.8" stroke="#1a1a1a" stroke-width="1"/>
<text class="s" transform="translate(626.64,316.4) rotate(-45)" x="0" y="0" font-size="7.4" text-anchor="end" font-family="'Liberation Sans', Arial, sans-serif" fill="#1a1a1a">2023/10/12</text>
<line x1="641.36" y1="308.8" x2="641.36" y2="311.8" stroke="#1a1a1a" stroke-width="1"/>
<text class="s" transform="translate(643.36,316.4) rotate(-45)" x="0" y="0" font-size="7.4" text-anchor="end" font-family="'Liberation Sans', Arial, sans-serif" fill="#1a1a1a">2023/11/9</text>
<line x1="658.08" y1="308.8" x2="658.08" y2="311.8" stroke="#1a1a1a" stroke-width="1"/>
<text class="s" transform="translate(660.08,316.4) rotate(-45)" x="0" y="0" font-size="7.4" text-anchor="end" font-family="'Liberation Sans', Arial, sans-serif" fill="#1a1a1a">2023/11/27</text>
<line x1="674.8" y1="308.8" x2="674.8" y2="311.8" stroke="#1a1a1a" stroke-width="1"/>
<text class="s" transform="translate(676.8,316.4) rotate(-45)" x="0" y="0" font-size="7.4" text-anchor="end" font-family="'Liberation Sans', Arial, sans-serif" fill="#1a1a1a">2024/1/8</text>
<line x1="691.52" y1="308.8" x2="691.52" y2="311.8" stroke="#1a1a1a" stroke-width="1"/>
<text class="s" transform="translate(693.52,316.4) rotate(-45)" x="0" y="0" font-size="7.4" text-anchor="end" font-family="'Liberation Sans', Arial, sans-serif" fill="#1a1a1a">2024/2/19</text>
<line x1="708.24" y1="308.8" x2="708.24" y2="311.8" stroke="#1a1a1a" stroke-width="1"/>
<text class="s" transform="translate(710.24,316.4) rotate(-45)" x="0" y="0" font-size="7.4" text-anchor="end" font-family="'Liberation Sans', Arial, sans-serif" fill="#1a1a1a">2024/3/18</text>
<line x1="724.96" y1="308.8" x2="724.96" y2="311.8" stroke="#1a1a1a" stroke-width="1"/>
<text class="s" transform="translate(726.96,316.4) rotate(-45)" x="0" y="0" font-size="7.4" text-anchor="end" font-family="'Liberation Sans', Arial, sans-serif" fill="#1a1a1a">2024/5/6</text>
<line x1="741.68" y1="308.8" x2="741.68" y2="311.8" stroke="#1a1a1a" stroke-width="1"/>
<text class="s" transform="translate(743.68,316.4) rotate(-45)" x="0" y="0" font-size="7.4" text-anchor="end" font-family="'Liberation Sans', Arial, sans-serif" fill="#1a1a1a">2024/6/17</text>
<text class="s" transform="translate(537.9,252) rotate(-90)" x="0" y="0" font-size="9.4" text-anchor="middle" font-family="'Liberation Sans', Arial, sans-serif" fill="#1a1a1a">AFP</text>
<text class="t" x="521.6" y="197.9" font-size="9.2" text-anchor="start" font-family="'Liberation Sans', Arial, sans-serif" fill="#1a1a1a">E</text>
<polyline points="591.2,215.4 607.92,228.06 624.64,242.15 641.36,276.75 658.08,292.67 674.8,300.74 691.52,304.12 708.24,304.5 724.96,304.99 741.68,306.67" fill="none" stroke="#2b5f98" stroke-width="1.05"/>
<circle cx="591.2" cy="215.4" r="2.65" fill="#0f4a87"/>
<circle cx="607.92" cy="228.06" r="2.65" fill="#0f4a87"/>
<circle cx="624.64" cy="242.15" r="2.65" fill="#0f4a87"/>
<circle cx="641.36" cy="276.75" r="2.65" fill="#0f4a87"/>
<circle cx="658.08" cy="292.67" r="2.65" fill="#0f4a87"/>
<circle cx="674.8" cy="300.74" r="2.65" fill="#0f4a87"/>
<circle cx="691.52" cy="304.12" r="2.65" fill="#0f4a87"/>
<circle cx="708.24" cy="304.5" r="2.65" fill="#0f4a87"/>
<circle cx="724.96" cy="304.99" r="2.65" fill="#0f4a87"/>
<circle cx="741.68" cy="306.67" r="2.65" fill="#0f4a87"/>
<line x1="700.3" y1="201.5" x2="708.5" y2="201.5" stroke="#2b5f98" stroke-width="1"/>
<circle cx="704.2" cy="201.5" r="2.5" fill="#0f4a87"/>
<text class="t" x="712" y="203.8" font-size="5.3" text-anchor="start" font-family="'Liberation Sans', Arial, sans-serif" fill="#1a1a1a">AFP</text>
<line x1="700.8" y1="213.5" x2="708.5" y2="213.5" stroke="#a9c1e6" stroke-width="1"/>
<text class="t" x="712.3" y="215.5" font-size="5.3" text-anchor="start" font-family="'Liberation Sans', Arial, sans-serif" fill="#1a1a1a">Normal range</text>
<text class="t" x="588.9" y="201.4" font-size="5.3" text-anchor="start" font-family="'Liberation Sans', Arial, sans-serif" fill="#1a1a1a">Surgery</text>
<line x1="598.4" y1="204" x2="598.4" y2="215.5" stroke="#555" stroke-width="0.8"/>
<polygon points="596,215 600.8,215 598.4,219.5" fill="#111"/>
<text class="t" x="656" y="275.6" font-size="5.3" text-anchor="start" font-family="'Liberation Sans', Arial, sans-serif" fill="#1a1a1a">Last BEP chemotherapy (4th)</text>
<line x1="665" y1="278.3" x2="665" y2="289.6" stroke="#555" stroke-width="0.8"/>
<polygon points="662.6,289.1 667.4,289.1 665,293.6" fill="#111"/>
<line x1="591.4" y1="447.32" x2="740.71" y2="447.32" stroke="#f0a097" stroke-width="1"/>
<line x1="574.4" y1="360.22" x2="574.4" y2="471.9" stroke="#1a1a1a" stroke-width="1.2"/>
<line x1="573.8" y1="471.3" x2="741.21" y2="471.3" stroke="#1a1a1a" stroke-width="1.2"/>
<line x1="571.4" y1="471.3" x2="574.4" y2="471.3" stroke="#1a1a1a" stroke-width="1"/>
<text class="s" x="570.6" y="474.3" font-size="7.2" text-anchor="end" font-family="'Liberation Sans', Arial, sans-serif" fill="#1a1a1a">1</text>
<line x1="571.4" y1="452.87" x2="574.4" y2="452.87" stroke="#1a1a1a" stroke-width="1"/>
<text class="s" x="570.6" y="455.87" font-size="7.2" text-anchor="end" font-family="'Liberation Sans', Arial, sans-serif" fill="#1a1a1a">10</text>
<line x1="571.4" y1="434.44" x2="574.4" y2="434.44" stroke="#1a1a1a" stroke-width="1"/>
<text class="s" x="570.6" y="437.44" font-size="7.2" text-anchor="end" font-family="'Liberation Sans', Arial, sans-serif" fill="#1a1a1a">100</text>
<line x1="571.4" y1="416.01" x2="574.4" y2="416.01" stroke="#1a1a1a" stroke-width="1"/>
<text class="s" x="570.6" y="419.01" font-size="7.2" text-anchor="end" font-family="'Liberation Sans', Arial, sans-serif" fill="#1a1a1a">1000</text>
<line x1="571.4" y1="397.58" x2="574.4" y2="397.58" stroke="#1a1a1a" stroke-width="1"/>
<text class="s" x="570.6" y="400.58" font-size="7.2" text-anchor="end" font-family="'Liberation Sans', Arial, sans-serif" fill="#1a1a1a">10000</text>
<line x1="571.4" y1="379.15" x2="574.4" y2="379.15" stroke="#1a1a1a" stroke-width="1"/>
<text class="s" x="570.6" y="382.15" font-size="7.2" text-anchor="end" font-family="'Liberation Sans', Arial, sans-serif" fill="#1a1a1a">100000</text>
<line x1="571.4" y1="360.72" x2="574.4" y2="360.72" stroke="#1a1a1a" stroke-width="1"/>
<text class="s" x="570.6" y="363.72" font-size="7.2" text-anchor="end" font-family="'Liberation Sans', Arial, sans-serif" fill="#1a1a1a">1000000</text>
<line x1="591.4" y1="471.3" x2="591.4" y2="474.3" stroke="#1a1a1a" stroke-width="1"/>
<text class="s" transform="translate(593.4,478.9) rotate(-45)" x="0" y="0" font-size="7.4" text-anchor="end" font-family="'Liberation Sans', Arial, sans-serif" fill="#1a1a1a">2023/12/25</text>
<line x1="607.99" y1="471.3" x2="607.99" y2="474.3" stroke="#1a1a1a" stroke-width="1"/>
<text class="s" transform="translate(609.99,478.9) rotate(-45)" x="0" y="0" font-size="7.4" text-anchor="end" font-family="'Liberation Sans', Arial, sans-serif" fill="#1a1a1a">2024/1/12</text>
<line x1="624.58" y1="471.3" x2="624.58" y2="474.3" stroke="#1a1a1a" stroke-width="1"/>
<text class="s" transform="translate(626.58,478.9) rotate(-45)" x="0" y="0" font-size="7.4" text-anchor="end" font-family="'Liberation Sans', Arial, sans-serif" fill="#1a1a1a">2024/1/19</text>
<line x1="641.17" y1="471.3" x2="641.17" y2="474.3" stroke="#1a1a1a" stroke-width="1"/>
<text class="s" transform="translate(643.17,478.9) rotate(-45)" x="0" y="0" font-size="7.4" text-anchor="end" font-family="'Liberation Sans', Arial, sans-serif" fill="#1a1a1a">2024/2/8</text>
<line x1="657.76" y1="471.3" x2="657.76" y2="474.3" stroke="#1a1a1a" stroke-width="1"/>
<text class="s" transform="translate(659.76,478.9) rotate(-45)" x="0" y="0" font-size="7.4" text-anchor="end" font-family="'Liberation Sans', Arial, sans-serif" fill="#1a1a1a">2024/2/26</text>
<line x1="674.35" y1="471.3" x2="674.35" y2="474.3" stroke="#1a1a1a" stroke-width="1"/>
<text class="s" transform="translate(676.35,478.9) rotate(-45)" x="0" y="0" font-size="7.4" text-anchor="end" font-family="'Liberation Sans', Arial, sans-serif" fill="#1a1a1a">2024/3/21</text>
<line x1="690.94" y1="471.3" x2="690.94" y2="474.3" stroke="#1a1a1a" stroke-width="1"/>
<text class="s" transform="translate(692.94,478.9) rotate(-45)" x="0" y="0" font-size="7.4" text-anchor="end" font-family="'Liberation Sans', Arial, sans-serif" fill="#1a1a1a">2024/4/12</text>
<line x1="707.53" y1="471.3" x2="707.53" y2="474.3" stroke="#1a1a1a" stroke-width="1"/>
<text class="s" transform="translate(709.53,478.9) rotate(-45)" x="0" y="0" font-size="7.4" text-anchor="end" font-family="'Liberation Sans', Arial, sans-serif" fill="#1a1a1a">2024/4/29</text>
<line x1="724.12" y1="471.3" x2="724.12" y2="474.3" stroke="#1a1a1a" stroke-width="1"/>
<text class="s" transform="translate(726.12,478.9) rotate(-45)" x="0" y="0" font-size="7.4" text-anchor="end" font-family="'Liberation Sans', Arial, sans-serif" fill="#1a1a1a">2024/5/20</text>
<line x1="740.71" y1="471.3" x2="740.71" y2="474.3" stroke="#1a1a1a" stroke-width="1"/>
<text class="s" transform="translate(742.71,478.9) rotate(-45)" x="0" y="0" font-size="7.4" text-anchor="end" font-family="'Liberation Sans', Arial, sans-serif" fill="#1a1a1a">2024/7/8</text>
<text class="s" transform="translate(537.9,415) rotate(-90)" x="0" y="0" font-size="9.4" text-anchor="middle" font-family="'Liberation Sans', Arial, sans-serif" fill="#1a1a1a">AFP</text>
<text class="t" x="521.2" y="356" font-size="9.2" text-anchor="start" font-family="'Liberation Sans', Arial, sans-serif" fill="#1a1a1a">H</text>
<polyline points="591.4,379.56 607.99,387.42 624.58,399.17 641.17,423.21 657.76,433.46 674.35,444.35 690.94,449.11 707.53,450.89 724.12,451.96 740.71,455.17" fill="none" stroke="#d4584b" stroke-width="1.05"/>
<circle cx="591.4" cy="379.56" r="2.65" fill="#c8382d"/>
<circle cx="607.99" cy="387.42" r="2.65" fill="#c8382d"/>
<circle cx="624.58" cy="399.17" r="2.65" fill="#c8382d"/>
<circle cx="641.17" cy="423.21" r="2.65" fill="#c8382d"/>
<circle cx="657.76" cy="433.46" r="2.65" fill="#c8382d"/>
<circle cx="674.35" cy="444.35" r="2.65" fill="#c8382d"/>
<circle cx="690.94" cy="449.11" r="2.65" fill="#c8382d"/>
<circle cx="707.53" cy="450.89" r="2.65" fill="#c8382d"/>
<circle cx="724.12" cy="451.96" r="2.65" fill="#c8382d"/>
<circle cx="740.71" cy="455.17" r="2.65" fill="#c8382d"/>
<line x1="700.3" y1="365" x2="708.5" y2="365" stroke="#d4584b" stroke-width="1"/>
<circle cx="704.2" cy="365" r="2.5" fill="#c8382d"/>
<text class="t" x="712" y="367.3" font-size="5.3" text-anchor="start" font-family="'Liberation Sans', Arial, sans-serif" fill="#1a1a1a">AFP</text>
<line x1="700.8" y1="377" x2="708.5" y2="377" stroke="#f0a097" stroke-width="1"/>
<text class="t" x="712.3" y="379" font-size="5.3" text-anchor="start" font-family="'Liberation Sans', Arial, sans-serif" fill="#1a1a1a">Normal range</text>
<text class="t" x="576.8" y="357.8" font-size="5.3" text-anchor="start" font-family="'Liberation Sans', Arial, sans-serif" fill="#1a1a1a">Disease relapse</text>
<line x1="591.4" y1="360.5" x2="591.4" y2="371.3" stroke="#555" stroke-width="0.8"/>
<polygon points="589,370.8 593.8,370.8 591.4,375.3" fill="#111"/>
<text class="t" x="597.8" y="367" font-size="5.3" text-anchor="start" font-family="'Liberation Sans', Arial, sans-serif" fill="#1a1a1a">EP chemotherapy</text>
<line x1="602.3" y1="368" x2="602.3" y2="378.7" stroke="#555" stroke-width="0.8"/>
<polygon points="599.9,378.2 604.7,378.2 602.3,382.7" fill="#111"/>
<text class="t" x="613.8" y="376.3" font-size="5.3" text-anchor="start" font-family="'Liberation Sans', Arial, sans-serif" fill="#1a1a1a">Surgery</text>
<line x1="618.4" y1="377.3" x2="618.4" y2="388.4" stroke="#555" stroke-width="0.8"/>
<polygon points="616,387.9 620.8,387.9 618.4,392.4" fill="#111"/>
<text class="t" x="674.6" y="433.5" font-size="5.3" text-anchor="start" font-family="'Liberation Sans', Arial, sans-serif" fill="#1a1a1a">Last BEP chemotherapy (7th)</text>
<line x1="730" y1="436.2" x2="730" y2="447.5" stroke="#555" stroke-width="0.8"/>
<polygon points="727.6,447 732.4,447 730,451.5" fill="#111"/>
<text x="145.2" y="10.9" font-size="11" text-anchor="start" font-family="'Liberation Serif', 'Times New Roman', serif" fill="#222">Cisplatin</text>
<text x="373.6" y="10.9" font-size="11" text-anchor="start" font-family="'Liberation Serif', 'Times New Roman', serif" fill="#222">Carboplatin</text>
<text x="6.4" y="105.4" font-size="11" text-anchor="start" font-family="'Liberation Serif', 'Times New Roman', serif" fill="#222">NOY1</text>
<text x="11.4" y="270.2" font-size="11" text-anchor="start" font-family="'Liberation Serif', 'Times New Roman', serif" fill="#222">009</text>
<text x="11.4" y="432.2" font-size="11" text-anchor="start" font-family="'Liberation Serif', 'Times New Roman', serif" fill="#222">015</text>
</svg>
</body></html>
